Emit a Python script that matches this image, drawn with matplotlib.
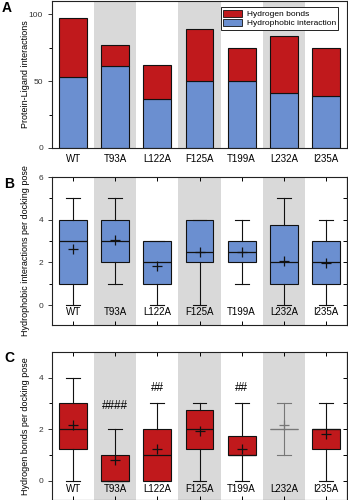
import matplotlib
matplotlib.use("Agg")
import matplotlib.pyplot as plt
from matplotlib.patches import Patch

plt.rcParams['font.family'] = ['Liberation Sans', 'DejaVu Sans']

categories = ["WT", "T93A", "L122A", "F125A", "T199A", "L232A", "I235A"]

# Panel A: total interaction counts per mutant
hydrophobic_total = [53, 61, 37, 50, 50, 41, 39]
hbond_total = [44, 16, 25, 39, 25, 43, 36]

# Panel B: hydrophobic interactions per docking pose (whislo, q1, med, q3, whishi, mean)
hp_whislo = [0, 1, 0, 0, 1, 0, 0]
hp_q1 = [1, 2, 1, 2, 2, 1, 1]
hp_med = [3, 3, 2, 2.5, 2.5, 2, 2]
hp_q3 = [4, 4, 3, 4, 3, 3.75, 3]
hp_whishi = [5, 5, 3, 4, 4, 5, 4]
hp_mean = [2.65, 3.05, 1.85, 2.5, 2.5, 2.05, 1.95]

# Panel C: hydrogen bonds per docking pose
hb_whislo = [0, 0, 0, 0, 0, 1, 0]
hb_q1 = [1.25, 0, 0, 1.25, 1, 2, 1.25]
hb_med = [2, 0, 1, 2, 1, 2, 2]
hb_q3 = [3, 1, 2, 2.75, 1.75, 2, 2]
hb_whishi = [4, 2, 3, 3, 3, 3, 3]
hb_mean = [2.15, 0.8, 1.25, 1.95, 1.25, 2.15, 1.8]
hb_marks = ["", "####", "##", "", "##", "", ""]
hb_mark_y = [0, 2.9, 3.6, 0, 3.6, 0, 0]

RED = "#c0191c"
BLUE = "#6b8fd0"
GREY = "#d9d9d9"

W, H = 348, 500
fig = plt.figure(figsize=(W / 100, H / 100), dpi=100)

AX_LEFT, AX_RIGHT = 52, 347
YLABEL_X = (30 - AX_LEFT) / (AX_RIGHT - AX_LEFT)


def px_axes(left, top, right, bottom):
    return fig.add_axes([left / W, 1 - bottom / H, (right - left) / W, (bottom - top) / H])


def shade(ax):
    for i in range(len(categories)):
        if i % 2 == 1:
            ax.axvspan(i - 0.5, i + 0.5, color=GREY, lw=0, zorder=0)
    ax.set_xlim(-0.5, len(categories) - 0.5)


def style_spines(ax):
    for s in ax.spines.values():
        s.set_linewidth(0.8)
        s.set_color("#222222")


x = list(range(len(categories)))

# ---------- Panel A ----------
axA = px_axes(AX_LEFT, 1, AX_RIGHT, 148)
shade(axA)
axA.bar(x, hydrophobic_total, width=0.66, color=BLUE, edgecolor="#111111", lw=0.8, zorder=2,
        label="Hydrophobic interaction")
axA.bar(x, hbond_total, bottom=hydrophobic_total, width=0.66, color=RED, edgecolor="#111111",
        lw=0.8, zorder=2, label="Hydrogen bonds")
axA.set_ylim(0, 110)
axA.set_yticks([0, 50, 100])
axA.set_yticks([25, 75], minor=True)
axA.set_xticks(x)
axA.set_xticklabels(categories, fontsize=7)
axA.tick_params(axis='x', length=0, pad=4)
axA.tick_params(axis='y', which='major', labelsize=6, length=3, width=0.7, colors="#333333")
axA.tick_params(axis='y', which='minor', length=2, width=0.7)
axA.set_ylabel("Protein-Ligand interactions", fontsize=6.5)
axA.yaxis.set_label_coords(YLABEL_X, 0.5)
style_spines(axA)
handles = [Patch(facecolor=RED, edgecolor="#111111", lw=0.6, label="Hydrogen bonds"),
           Patch(facecolor=BLUE, edgecolor="#111111", lw=0.6, label="Hydrophobic interaction")]
leg = axA.legend(handles=handles, loc="upper right", fontsize=6, frameon=True, fancybox=False,
                 edgecolor="#222222", framealpha=1, borderpad=0.3, handlelength=2.2,
                 handleheight=0.9, labelspacing=0.1, handletextpad=0.6,
                 bbox_to_anchor=(0.985, 0.985))
leg.get_frame().set_linewidth(0.7)


def box_panel(ax, whislo, q1, med, q3, whishi, mean, color, ylim, major, minor, ylabel, label_y):
    shade(ax)
    stats = []
    for i in range(len(categories)):
        stats.append(dict(whislo=whislo[i], q1=q1[i], med=med[i], q3=q3[i],
                          whishi=whishi[i], mean=mean[i], fliers=[]))
    art = ax.bxp(stats, positions=x, widths=0.66, patch_artist=True, showmeans=True,
                 showfliers=False,
                 boxprops=dict(facecolor=color, edgecolor="#111111", lw=0.8),
                 medianprops=dict(color="#111111", lw=0.9),
                 whiskerprops=dict(color="#111111", lw=0.8),
                 capprops=dict(color="#111111", lw=0.8),
                 capwidths=0.33,
                 meanprops=dict(marker="+", markeredgecolor="#111111", markersize=7,
                                markeredgewidth=0.9))
    for b in art["boxes"]:
        b.set_zorder(2)
    ax.set_ylim(*ylim)
    ax.set_yticks(major)
    ax.set_yticks(minor, minor=True)
    ax.set_xticks(x)
    ax.tick_params(axis='x', direction='in', top=True, bottom=True, labelbottom=False,
                   length=3, width=0.7)
    ax.tick_params(axis='y', which='major', labelsize=6, length=3, width=0.7, colors="#333333")
    ax.tick_params(axis='y', which='minor', length=2, width=0.7)
    sec = ax.secondary_yaxis('right')
    sec.set_yticks(major)
    sec.set_yticks(minor, minor=True)
    sec.tick_params(axis='y', which='both', direction='in', labelright=False, length=3, width=0.7)
    sec.spines['right'].set_linewidth(0.8)
    for i, c in enumerate(categories):
        ax.text(i, label_y, c, ha="center", va="center", fontsize=7, zorder=3)
    ax.set_ylabel(ylabel, fontsize=6.5)
    ax.yaxis.set_label_coords(YLABEL_X, 0.5)
    style_spines(ax)
    return art


# ---------- Panel B ----------
axB = px_axes(AX_LEFT, 177, AX_RIGHT, 325)
box_panel(axB, hp_whislo, hp_q1, hp_med, hp_q3, hp_whishi, hp_mean, BLUE,
          (-0.93, 6), [0, 2, 4, 6], [1, 3, 5],
          "Hydrophobic interactions per docking pose", -0.33)

# ---------- Panel C ----------
axC = px_axes(AX_LEFT, 352, AX_RIGHT, 500)
artC = box_panel(axC, hb_whislo, hb_q1, hb_med, hb_q3, hb_whishi, hb_mean, RED,
                 (-0.75, 5), [0, 2, 4], [1, 3],
                 "Hydrogen bonds per docking pose", -0.33)
# the L232A distribution collapses to a single value; its lines are drawn lighter
k = categories.index("L232A")
for key in ("whiskers", "caps"):
    for ln in artC[key][2 * k:2 * k + 2]:
        ln.set_color("#777777")
artC["medians"][k].set_color("#777777")
artC["means"][k].set_markeredgecolor("#777777")
artC["boxes"][k].set_edgecolor("#777777")
for i, m in enumerate(hb_marks):
    if m:
        axC.text(i, hb_mark_y[i], m, ha="center", va="center", fontsize=8.5, zorder=3)

# panel letters
fig.text(2 / W, 1 - 8 / H, "A", fontsize=10, fontweight="bold", va="center")
fig.text(4 / W, 1 - 184 / H, "B", fontsize=10, fontweight="bold", va="center")
fig.text(4 / W, 1 - 358 / H, "C", fontsize=10, fontweight="bold", va="center")

fig.savefig("out.png", dpi=100)
